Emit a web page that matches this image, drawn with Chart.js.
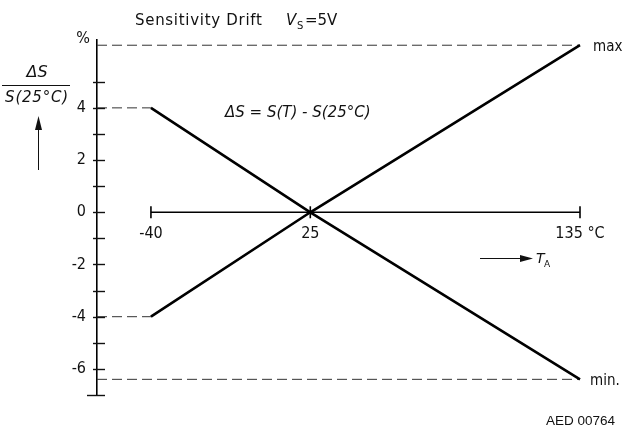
<!DOCTYPE html>
<html>
<head>
<meta charset="utf-8">
<script src="https://cdn.jsdelivr.net/npm/chart.js@4.4.1/dist/chart.umd.min.js"></script>
<style>
  html, body { margin: 0; padding: 0; background: #fff; }
  #wrap { width: 624px; height: 434px; }
</style>
</head>
<body>
<div id="wrap"><canvas id="drift"></canvas></div>
<script>
// ambient temperature points (°C) and sensitivity drift limits (%)
const temps = [-40, 25, 135];
const driftMax = [-4, 0, 6.4];
const driftMin = [4, 0, -6.4];
const xTickLabels = ['-40', '25', '135 °C'];
const yTickLabels = [6, 4, 2, 0, -2, -4, -6];

const X_MIN = -62;
const Y_MIN = -7;
const Y_MAX = 6.6;

const FONT = '"DejaVu Sans Condensed", "Liberation Sans Narrow", "DejaVu Sans", sans-serif';
const INK = '#111';

function pts(ys) {
    return temps.map((t, i) => ({ x: t, y: ys[i] }));
}

// helper for the dashed guide lines back to the y axis
function guide(y, toX) {
    return {
        data: [{ x: X_MIN, y: y }, { x: toX, y: y }],
        borderColor: '#333',
        borderWidth: 1,
        borderDash: [10, 5],
        pointRadius: 0
    };
}

function arrowHead(ctx, x, y, dx, dy, len, half) {
    ctx.beginPath();
    ctx.moveTo(x, y);
    ctx.lineTo(x - dx * len - dy * half, y - dy * len - dx * half);
    ctx.lineTo(x - dx * len + dy * half, y - dy * len + dx * half);
    ctx.closePath();
    ctx.fill();
}

// annotations: title, y unit, formula, arrows, minor ticks
const annotations = {
    id: 'annotations',
    afterDraw(chart) {
        const ctx = chart.ctx;
        const xs = chart.scales.x;
        const ys = chart.scales.y;
        const axisX = chart.chartArea.left;

        ctx.save();
        ctx.fillStyle = INK;
        ctx.strokeStyle = INK;

        // tick marks crossing the y axis, one per unit
        ctx.lineWidth = 1.4;
        ys.ticks.forEach(t => {
            if (!Number.isInteger(t.value)) return;
            const py = Math.round(ys.getPixelForValue(t.value)) + 0.5;
            const left = t.value === Y_MIN ? 10 : 4;
            ctx.beginPath();
            ctx.moveTo(axisX - left, py);
            ctx.lineTo(axisX + 8, py);
            ctx.stroke();
        });

        // title
        ctx.textBaseline = 'alphabetic';
        ctx.textAlign = 'left';
        ctx.font = '15px "DejaVu Sans", sans-serif';
        ctx.letterSpacing = '0.7px';
        ctx.fillText('Sensitivity Drift', 135, 25);
        ctx.letterSpacing = '0px';
        ctx.font = 'italic 15px "DejaVu Sans", sans-serif';
        ctx.fillText('V', 286, 25);
        ctx.font = '10px "DejaVu Sans", sans-serif';
        ctx.fillText('S', 297, 29);
        ctx.font = '15px "DejaVu Sans", sans-serif';
        ctx.fillText('=5V', 305, 25);

        // unit above the y axis
        ctx.textAlign = 'center';
        ctx.font = '16px ' + FONT;
        ctx.fillText('%', 83, 43);

        // y axis quantity as a fraction
        ctx.font = 'italic 16px "DejaVu Sans", sans-serif';
        ctx.fillText('ΔS', 37, 77);
        ctx.lineWidth = 1.2;
        ctx.beginPath();
        ctx.moveTo(2, 85.5);
        ctx.lineTo(70, 85.5);
        ctx.stroke();
        ctx.font = 'italic 15px "DejaVu Sans", sans-serif';
        ctx.letterSpacing = '0.8px';
        ctx.fillText('S(25°C)', 37, 102);
        ctx.letterSpacing = '0px';

        // upward arrow under the fraction
        ctx.lineWidth = 1;
        ctx.beginPath();
        ctx.moveTo(38.5, 170);
        ctx.lineTo(38.5, 128);
        ctx.stroke();
        arrowHead(ctx, 38.5, 116, 0, -1, 14, 3.5);

        // definition of the drift
        ctx.textAlign = 'left';
        ctx.font = 'italic 15px "DejaVu Sans", sans-serif';
        ctx.fillText('ΔS = S(T) - S(25°C)', 225, 117);

        // end labels of the limit lines
        const last = temps.length - 1;
        const ex = xs.getPixelForValue(temps[last]);
        ctx.textBaseline = 'middle';
        ctx.font = '15px ' + FONT;
        ctx.fillText('max', ex + 13, ys.getPixelForValue(driftMax[last]) + 2);
        ctx.fillText('min.', ex + 10, ys.getPixelForValue(driftMin[last]) + 2);

        // temperature arrow
        ctx.lineWidth = 1;
        ctx.beginPath();
        ctx.moveTo(480, 258.5);
        ctx.lineTo(522, 258.5);
        ctx.stroke();
        arrowHead(ctx, 533, 258.5, 1, 0, 13, 3.5);
        ctx.textBaseline = 'alphabetic';
        ctx.font = 'italic 14px "DejaVu Sans", sans-serif';
        ctx.fillText('T', 536, 263);
        ctx.font = '9px "DejaVu Sans", sans-serif';
        ctx.fillText('A', 544, 267);

        // drawing number
        ctx.textAlign = 'right';
        ctx.font = '13.5px "Liberation Sans", Arial, sans-serif';
        ctx.fillText('AED 00764', 615, 425);

        ctx.restore();
    }
};

new Chart(document.getElementById('drift'), {
    type: 'line',
    data: {
        datasets: [
            {
                data: pts(driftMax),
                borderColor: '#000',
                borderWidth: 2.6,
                pointRadius: 0,
                clip: false
            },
            {
                data: pts(driftMin),
                borderColor: '#000',
                borderWidth: 2.6,
                pointRadius: 0,
                clip: false
            },
            {
                // temperature range line with end marks
                data: temps.map(t => ({ x: t, y: 0 })),
                borderColor: '#000',
                borderWidth: 1.4,
                pointStyle: 'line',
                rotation: 90,
                pointRadius: 6,
                pointBorderWidth: 1.6,
                pointBorderColor: '#000',
                clip: false
            },
            guide(driftMax[0], temps[0]),
            guide(driftMin[0], temps[0]),
            guide(driftMax[temps.length - 1], temps[temps.length - 1]),
            guide(driftMin[temps.length - 1], temps[temps.length - 1])
        ]
    },
    options: {
        responsive: true,
        maintainAspectRatio: false,
        animation: false,
        layout: {
            padding: { left: 0, right: 44, top: 40, bottom: 39 }
        },
        plugins: {
            legend: { display: false },
            tooltip: { enabled: false }
        },
        scales: {
            x: {
                type: 'linear',
                min: X_MIN,
                max: temps[temps.length - 1],
                position: { y: 0 },
                grid: { display: false, drawTicks: false },
                border: { display: false },
                afterBuildTicks: s => {
                    s.ticks = temps.map(v => ({ value: v }));
                },
                ticks: {
                    autoSkip: false,
                    maxRotation: 0,
                    padding: 12,
                    color: INK,
                    font: { family: FONT, size: 16 },
                    callback: (v, i) => xTickLabels[i]
                }
            },
            y: {
                type: 'linear',
                min: Y_MIN,
                max: Y_MAX,
                grid: { display: false, drawTicks: false },
                border: { display: true, color: '#000', width: 1.6 },
                afterFit: s => { s.width = 97; },
                ticks: {
                    stepSize: 1,
                    padding: 11,
                    color: INK,
                    font: { family: FONT, size: 16 },
                    callback: v => yTickLabels.includes(v) ? String(v) : ''
                }
            }
        }
    },
    plugins: [annotations]
});
</script>
</body>
</html>
